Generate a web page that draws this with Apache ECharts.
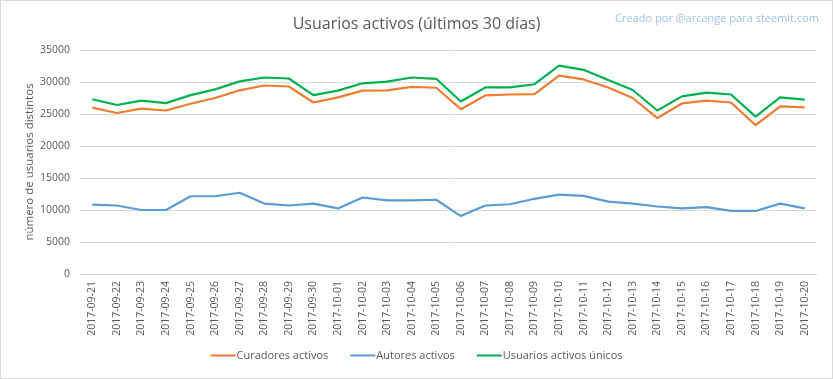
<!DOCTYPE html>
<html><head><meta charset="utf-8">
<script src="https://cdn.jsdelivr.net/npm/echarts@6/dist/echarts.min.js"></script>
<style>html,body{margin:0;padding:0;background:#fff}#c{width:833px;height:379px;box-sizing:border-box;border:1px solid #d9d9d9}</style>
</head><body><div id="c"></div>
<script>
const categories = ["2017-09-21","2017-09-22","2017-09-23","2017-09-24","2017-09-25","2017-09-26","2017-09-27","2017-09-28","2017-09-29","2017-09-30","2017-10-01","2017-10-02","2017-10-03","2017-10-04","2017-10-05","2017-10-06","2017-10-07","2017-10-08","2017-10-09","2017-10-10","2017-10-11","2017-10-12","2017-10-13","2017-10-14","2017-10-15","2017-10-16","2017-10-17","2017-10-18","2017-10-19","2017-10-20"];
const curadores = [26000,25150,25850,25550,26600,27500,28700,29450,29300,26800,27600,28650,28700,29250,29100,25750,27900,28050,28100,31000,30400,29150,27500,24350,26650,27100,26800,23250,26200,26050];
const autores = [10850,10700,10000,10000,12150,12150,12700,11000,10700,11000,10250,11950,11500,11500,11600,9050,10700,10900,11750,12400,12200,11300,11000,10550,10250,10450,9850,9850,11000,10250];
const unicos = [27300,26400,27100,26700,27950,28850,30100,30700,30550,27950,28650,29800,30050,30700,30500,26950,29150,29150,29650,32550,31900,30300,28750,25550,27750,28350,28050,24600,27600,27250];
const yTicks = {min:0, max:35000, interval:5000};
const font = "Open Sans";
const chart = echarts.init(document.getElementById('c'));
chart.setOption({
  animation:false,
  textStyle:{fontFamily:font},
  title:[
    {text:"Usuarios activos (últimos 30 días)", left:"center", top:10, textStyle:{fontFamily:font,fontSize:16,fontWeight:'normal',color:'#595959'}},
    {text:"Creado por @arcange para steemit.com", right:8, top:7, textStyle:{fontFamily:font,fontSize:11,fontWeight:'normal',color:'#9dc3e6'}}
  ],
  grid:{left:79,right:15,top:49,bottom:104,containLabel:false},
  legend:{bottom:12,left:'center',icon:'rect',itemWidth:25,itemHeight:2,itemGap:22,
    textStyle:{fontFamily:font,fontSize:11,color:'#595959',padding:[0,0,0,-4]},
    data:["Curadores activos","Autores activos","Usuarios activos únicos"]},
  xAxis:{type:'category',data:categories,boundaryGap:true,
    axisLine:{lineStyle:{color:'#d9d9d9'}},axisTick:{show:false},
    axisLabel:{rotate:90,interval:0,fontSize:10.5,color:'#595959',margin:7}},
  yAxis:{type:'value',min:yTicks.min,max:yTicks.max,interval:yTicks.interval,
    name:"número de usuarios distintos",nameLocation:'middle',nameGap:44,nameRotate:90,nameMoveOverlap:false,
    nameTextStyle:{fontSize:11.5,color:'#595959'},
    axisLine:{show:false},axisTick:{show:false},
    axisLabel:{fontSize:10.5,color:'#595959',margin:10,formatter:v=>String(v)},
    splitLine:{lineStyle:{color:'#d9d9d9'}}},
  series:[
    {name:"Curadores activos",type:'line',data:curadores,symbol:'none',lineStyle:{width:2.2,color:'#ED7D31'},itemStyle:{color:'#ED7D31'}},
    {name:"Autores activos",type:'line',data:autores,symbol:'none',lineStyle:{width:2.2,color:'#5B9BD5'},itemStyle:{color:'#5B9BD5'}},
    {name:"Usuarios activos únicos",type:'line',data:unicos,symbol:'none',lineStyle:{width:2.2,color:'#00B050'},itemStyle:{color:'#00B050'}}
  ]
});
</script></body></html>
